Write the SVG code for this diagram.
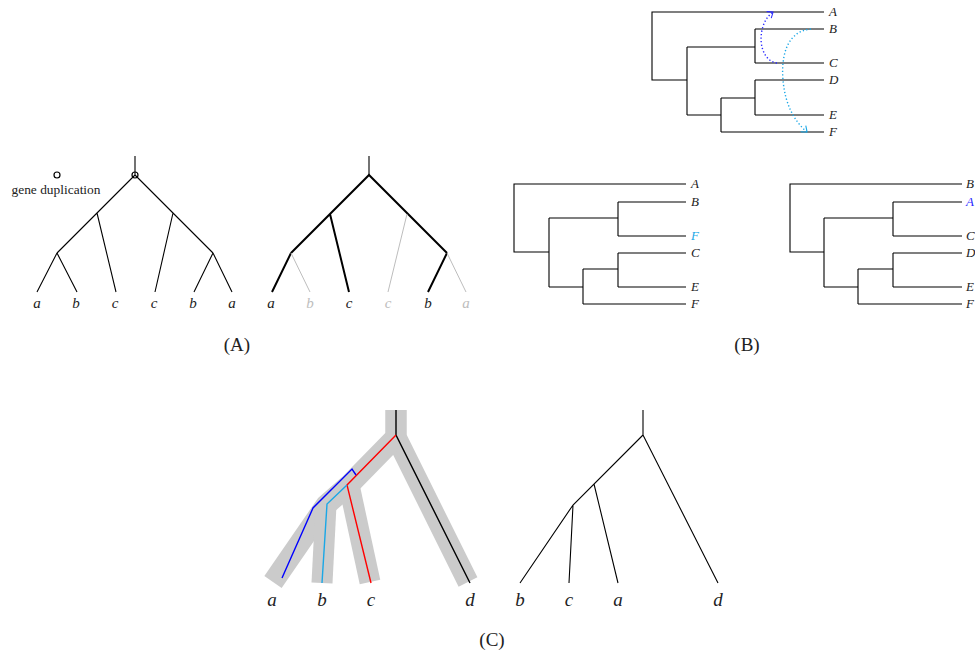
<svg xmlns="http://www.w3.org/2000/svg" width="975" height="655" viewBox="0 0 975 655">
<style>
.e{fill:none;stroke:#000;stroke-width:1.1}
.bold{fill:none;stroke:#000;stroke-width:2}
.ghost{fill:none;stroke:#bdbdbd;stroke-width:1}
.lbl{font-family:"Liberation Serif","DejaVu Serif",serif;font-style:italic;fill:#222}
.la{font-size:15px;text-anchor:middle}
.lb{font-size:13px}
.lc{font-size:19px;text-anchor:middle}
.cap{font-family:"Liberation Serif","DejaVu Serif",serif;font-size:19px;fill:#222;text-anchor:middle}
.band{fill:none;stroke:#cbcbcb;stroke-width:21;stroke-linejoin:miter;stroke-linecap:butt}
.gl{fill:none;stroke-width:1.4;stroke-linejoin:miter}
.dot{fill:none;stroke-width:1.4;stroke-dasharray:1.3 2.2}
</style>
<defs>
<marker id="arB" viewBox="-6 -5 8 10" markerWidth="8" markerHeight="10" refX="0" refY="0" orient="auto" markerUnits="userSpaceOnUse">
<path d="M-5,-4 Q-1,-1 0,0 Q-1,1 -5,4" fill="none" stroke="#2a2aff" stroke-width="1.1"/>
</marker>
<marker id="arC" viewBox="-6 -5 8 10" markerWidth="8" markerHeight="10" refX="0" refY="0" orient="auto" markerUnits="userSpaceOnUse">
<path d="M-5,-4 Q-1,-1 0,0 Q-1,1 -5,4" fill="none" stroke="#1aa7e6" stroke-width="1.1"/>
</marker>
</defs>

<!-- Panel A, left tree -->
<g id="A-left">
<g id="A-left-edges">
<path class="e" d="M135,156 V175 M135,175 L57,253 M135,175 L213,253 M57,253 L37,292 M57,253 L77,292 M97,213 L116,292 M173,213 L155,292 M213,253 L194,292 M213,253 L232,292"/>
<circle cx="135" cy="175" r="3" fill="none" stroke="#000" stroke-width="1.2"/>
</g>
<g id="A-legend">
<circle cx="57" cy="175" r="3" fill="none" stroke="#000" stroke-width="1.2"/>
<text x="56" y="194" font-family="Liberation Serif, DejaVu Serif, serif" font-size="11.5" fill="#222" text-anchor="middle" textLength="89" lengthAdjust="spacingAndGlyphs">gene duplication</text>
</g>
<g id="A-left-leaves">
<text class="lbl la" x="37" y="308">a</text>
<text class="lbl la" x="76" y="308">b</text>
<text class="lbl la" x="115" y="308">c</text>
<text class="lbl la" x="154" y="308">c</text>
<text class="lbl la" x="193" y="308">b</text>
<text class="lbl la" x="232" y="308">a</text>
</g>
</g>

<!-- Panel A, right tree -->
<g id="A-right">
<g id="A-right-edges">
<path class="e" d="M369,156 V175" stroke-width="1.3"/>
<path class="bold" d="M291,253 L369,175 L447,253 M291,253 L272,292 M330,214 L349,292 M447,253 L428,292"/>
<path class="ghost" d="M291,253 L310,292 M407,214 L388,292 M447,253 L466,292"/>
</g>
<g id="A-right-leaves">
<text class="lbl la" x="271" y="308">a</text>
<text class="lbl la" x="310" y="308" style="fill:#bdbdbd">b</text>
<text class="lbl la" x="349" y="308">c</text>
<text class="lbl la" x="388" y="308" style="fill:#bdbdbd">c</text>
<text class="lbl la" x="428" y="308">b</text>
<text class="lbl la" x="466" y="308" style="fill:#bdbdbd">a</text>
</g>
</g>
<text class="cap" x="237" y="351">(A)</text>

<!-- Panel B, top tree -->
<g id="B-top">
<g id="B-top-edges">
<path class="e" d="M824,12 H652 V80 H687 M687,47 V115 M687,47 H755 M755,29 V63 M755,29 H824 M755,63 H824 M687,115 H721 M721,98 V132 M721,98 H755 M755,80 V115 M755,80 H824 M755,115 H824 M721,132 H824"/>
</g>
<g id="B-top-transfers">
<path class="dot" stroke="#2a2aff" d="M777,63 C757,60 756,24 773,12" marker-end="url(#arB)"/>
<path class="dot" stroke="#1aa7e6" d="M811,29 C786,31 781,58 783,80 C785,104 794,121 807,132" marker-end="url(#arC)"/>
</g>
<g id="B-top-leaves">
<text class="lbl lb" x="829" y="16">A</text>
<text class="lbl lb" x="829" y="33">B</text>
<text class="lbl lb" x="829" y="67">C</text>
<text class="lbl lb" x="829" y="84">D</text>
<text class="lbl lb" x="829" y="119">E</text>
<text class="lbl lb" x="829" y="136">F</text>
</g>
</g>

<!-- Panel B, lower left tree -->
<g id="B-left">
<g id="B-left-edges">
<path class="e" d="M686,184 H514 V252 H549 M549,218 V287 M549,218 H618 M618,202 V236 M618,202 H686 M618,236 H686 M549,287 H583 M583,269 V304 M583,269 H618 M618,253 V287 M618,253 H686 M618,287 H686 M583,304 H686"/>
</g>
<g id="B-left-leaves">
<text class="lbl lb" x="691" y="188">A</text>
<text class="lbl lb" x="691" y="206">B</text>
<text class="lbl lb" x="691" y="240" style="fill:#1aa7e6">F</text>
<text class="lbl lb" x="691" y="257">C</text>
<text class="lbl lb" x="691" y="291">E</text>
<text class="lbl lb" x="691" y="308">F</text>
</g>
</g>

<!-- Panel B, lower right tree -->
<g id="B-right">
<g id="B-right-edges">
<path class="e" d="M962,184 H790 V252 H824 M824,218 V287 M824,218 H893 M893,202 V236 M893,202 H962 M893,236 H962 M824,287 H858 M858,269 V304 M858,269 H893 M893,253 V287 M893,253 H962 M893,287 H962 M858,304 H962"/>
</g>
<g id="B-right-leaves">
<text class="lbl lb" x="966" y="188">B</text>
<text class="lbl lb" x="966" y="206" style="fill:#2a2aff">A</text>
<text class="lbl lb" x="966" y="240">C</text>
<text class="lbl lb" x="966" y="257">D</text>
<text class="lbl lb" x="966" y="291">E</text>
<text class="lbl lb" x="966" y="308">F</text>
</g>
</g>
<text class="cap" x="747" y="351">(B)</text>

<!-- Panel C, left: gene tree inside species tree -->
<g id="C-left">
<g id="C-species-bands">
<path class="band" d="M396,410 L396,437 L468,582"/>
<path class="band" d="M396,410 L396,437 L349,485 L326,505 L273,582"/>
<path class="band" d="M349,485 L370,582"/>
<path class="band" d="M326,505 L322,583"/>
</g>
<g id="C-gene-lines">
<path class="gl" stroke="#000" d="M396,410 V435 L470,583"/>
<path class="gl" stroke="#ff0000" d="M396,435 L347,485 L371,583"/>
<path class="gl" stroke="#1aa7e6" d="M347,485 L327,504 L322,583"/>
<path class="gl" stroke="#0000ff" d="M356,475 L352,469 L313,508 L282,578"/>
</g>
<g id="C-left-leaves">
<text class="lbl lc" x="272" y="606">a</text>
<text class="lbl lc" x="322" y="606">b</text>
<text class="lbl lc" x="371" y="606">c</text>
<text class="lbl lc" x="470" y="606">d</text>
</g>
</g>

<!-- Panel C, right tree -->
<g id="C-right">
<g id="C-right-edges">
<path class="e" d="M643,410 V435 M643,435 L718,583 M643,435 L573,505 L520,583 M594,484 L618,583 M573,505 L569,583"/>
</g>
<g id="C-right-leaves">
<text class="lbl lc" x="520" y="606">b</text>
<text class="lbl lc" x="569" y="606">c</text>
<text class="lbl lc" x="618" y="606">a</text>
<text class="lbl lc" x="718" y="606">d</text>
</g>
</g>
<text class="cap" x="492" y="646">(C)</text>
</svg>
